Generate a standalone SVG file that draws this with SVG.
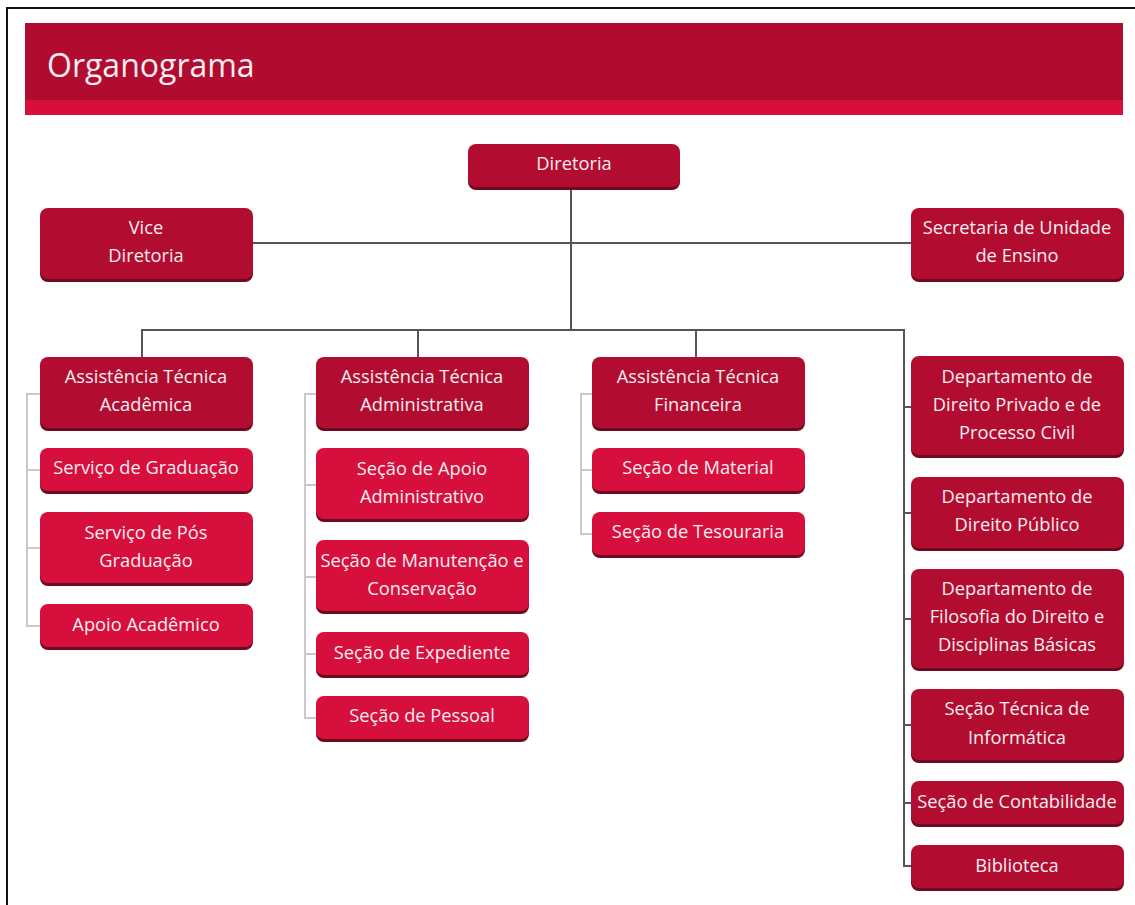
<svg xmlns="http://www.w3.org/2000/svg" width="1135" height="905" viewBox="0 0 1135 905">
<style>
.frame{stroke:#111;stroke-width:2;fill:none}
.main{stroke:#555;stroke-width:2;fill:none}
.sub{stroke:#c9c9c9;stroke-width:2;fill:none}
.sh{fill:#6e0a20}
.dk{fill:#b20d31}
.br{fill:#d60f3c}
.t{font-family:"Open Sans","Noto Sans",sans-serif;font-size:18.3px;fill:#f7eef0;text-anchor:middle}
.h{font-family:"Open Sans","Noto Sans",sans-serif;font-size:32px;fill:#f7eef0}
</style>
<rect width="1135" height="905" fill="#fff"/>
<path class="frame" d="M7 905 V8 H1135"/>
<g id="header">
<rect x="25" y="23" width="1098" height="92" fill="#b20b30"/>
<rect x="25" y="100" width="1098" height="15" fill="#d80e3b"/>
<text class="h" x="47" y="77">Organograma</text>
</g>
<g id="connectors">
<path class="main" d="M571 188 V330"/>
<path class="main" d="M253 243 H911"/>
<path class="main" d="M142 357 V330 H904 V866 H911"/>
<path class="main" d="M418 330 V357 M696 330 V357"/>
<path class="main" d="M904 407 H911 M904 513 H911 M904 619 H911 M904 725 H911 M904 803 H911"/>
<path class="sub" d="M40 394 H27 V626 H40 M27 470 H40 M27 548 H40"/>
<path class="sub" d="M316 394 H305 V718 H316 M305 485 H316 M305 577 H316 M305 654 H316"/>
<path class="sub" d="M592 394 H581 V534 H592 M581 470 H592"/>
</g>
<g id="n-diretoria"><rect class="sh" x="468" y="147" width="212" height="43" rx="8"/><rect class="dk" x="468" y="144" width="212" height="43" rx="8"/><text class="t" x="574" y="170">Diretoria</text></g>
<g id="n-vice"><rect class="sh" x="40" y="211" width="213" height="71" rx="8"/><rect class="dk" x="40" y="208" width="213" height="71" rx="8"/><text class="t" x="146" y="234">Vice</text><text class="t" x="146" y="262">Diretoria</text></g>
<g id="n-secretaria"><rect class="sh" x="911" y="211" width="213" height="71" rx="8"/><rect class="dk" x="911" y="208" width="213" height="71" rx="8"/><text class="t" x="1017" y="234">Secretaria de Unidade</text><text class="t" x="1017" y="262">de Ensino</text></g>
<g id="n-atacad"><rect class="sh" x="40" y="360" width="213" height="71" rx="8"/><rect class="dk" x="40" y="357" width="213" height="71" rx="8"/><text class="t" x="146" y="383">Assistência Técnica</text><text class="t" x="146" y="411">Acadêmica</text></g>
<g id="n-atadm"><rect class="sh" x="316" y="360" width="213" height="71" rx="8"/><rect class="dk" x="316" y="357" width="213" height="71" rx="8"/><text class="t" x="422" y="383">Assistência Técnica</text><text class="t" x="422" y="411">Administrativa</text></g>
<g id="n-atfin"><rect class="sh" x="592" y="360" width="213" height="71" rx="8"/><rect class="dk" x="592" y="357" width="213" height="71" rx="8"/><text class="t" x="698" y="383">Assistência Técnica</text><text class="t" x="698" y="411">Financeira</text></g>
<g id="n-grad"><rect class="sh" x="40" y="451" width="213" height="43" rx="8"/><rect class="br" x="40" y="448" width="213" height="43" rx="8"/><text class="t" x="146" y="474">Serviço de Graduação</text></g>
<g id="n-posgrad"><rect class="sh" x="40" y="515" width="213" height="71" rx="8"/><rect class="br" x="40" y="512" width="213" height="71" rx="8"/><text class="t" x="146" y="539">Serviço de Pós</text><text class="t" x="146" y="567">Graduação</text></g>
<g id="n-apoioacad"><rect class="sh" x="40" y="607" width="213" height="43" rx="8"/><rect class="br" x="40" y="604" width="213" height="43" rx="8"/><text class="t" x="146" y="631">Apoio Acadêmico</text></g>
<g id="n-apoioadm"><rect class="sh" x="316" y="451" width="213" height="71" rx="8"/><rect class="br" x="316" y="448" width="213" height="71" rx="8"/><text class="t" x="422" y="475">Seção de Apoio</text><text class="t" x="422" y="503">Administrativo</text></g>
<g id="n-manut"><rect class="sh" x="316" y="543" width="213" height="71" rx="8"/><rect class="br" x="316" y="540" width="213" height="71" rx="8"/><text class="t" x="422" y="567">Seção de Manutenção e</text><text class="t" x="422" y="595">Conservação</text></g>
<g id="n-exped"><rect class="sh" x="316" y="635" width="213" height="43" rx="8"/><rect class="br" x="316" y="632" width="213" height="43" rx="8"/><text class="t" x="422" y="659">Seção de Expediente</text></g>
<g id="n-pessoal"><rect class="sh" x="316" y="699" width="213" height="43" rx="8"/><rect class="br" x="316" y="696" width="213" height="43" rx="8"/><text class="t" x="422" y="722">Seção de Pessoal</text></g>
<g id="n-material"><rect class="sh" x="592" y="451" width="213" height="43" rx="8"/><rect class="br" x="592" y="448" width="213" height="43" rx="8"/><text class="t" x="698" y="474">Seção de Material</text></g>
<g id="n-tesouraria"><rect class="sh" x="592" y="515" width="213" height="43" rx="8"/><rect class="br" x="592" y="512" width="213" height="43" rx="8"/><text class="t" x="698" y="538">Seção de Tesouraria</text></g>
<g id="n-dpriv"><rect class="sh" x="911" y="359" width="213" height="99" rx="8"/><rect class="dk" x="911" y="356" width="213" height="99" rx="8"/><text class="t" x="1017" y="383">Departamento de</text><text class="t" x="1017" y="411">Direito Privado e de</text><text class="t" x="1017" y="439">Processo Civil</text></g>
<g id="n-dpub"><rect class="sh" x="911" y="480" width="213" height="71" rx="8"/><rect class="dk" x="911" y="477" width="213" height="71" rx="8"/><text class="t" x="1017" y="503">Departamento de</text><text class="t" x="1017" y="531">Direito Público</text></g>
<g id="n-dfil"><rect class="sh" x="911" y="572" width="213" height="99" rx="8"/><rect class="dk" x="911" y="569" width="213" height="99" rx="8"/><text class="t" x="1017" y="595">Departamento de</text><text class="t" x="1017" y="623">Filosofia do Direito e</text><text class="t" x="1017" y="651">Disciplinas Básicas</text></g>
<g id="n-info"><rect class="sh" x="911" y="692" width="213" height="71" rx="8"/><rect class="dk" x="911" y="689" width="213" height="71" rx="8"/><text class="t" x="1017" y="715">Seção Técnica de</text><text class="t" x="1017" y="744">Informática</text></g>
<g id="n-contab"><rect class="sh" x="911" y="784" width="213" height="43" rx="8"/><rect class="dk" x="911" y="781" width="213" height="43" rx="8"/><text class="t" x="1017" y="808">Seção de Contabilidade</text></g>
<g id="n-biblio"><rect class="sh" x="911" y="848" width="213" height="43" rx="8"/><rect class="dk" x="911" y="845" width="213" height="43" rx="8"/><text class="t" x="1017" y="872">Biblioteca</text></g>
</svg>
